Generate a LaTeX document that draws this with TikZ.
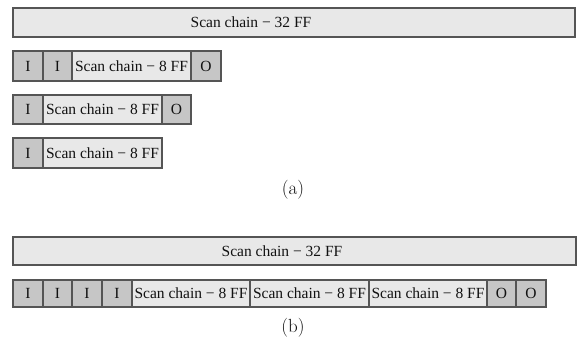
\documentclass[tikz,border=0pt]{standalone}
\usepackage{fontspec}
\newfontfamily\boxfont{Liberation Serif}
\definecolor{iogray}{HTML}{C6C6C6}
\definecolor{chaingray}{HTML}{E8E8E8}
\definecolor{edgegray}{HTML}{555555}
\definecolor{inkgray}{HTML}{111111}
\tikzset{
  cellbase/.style={draw=edgegray, line width=1.1pt, inner sep=0pt, outer sep=0pt,
    anchor=north west, text=inkgray, font=\boxfont\fontsize{15.5}{16}\selectfont},
  iocell/.style={cellbase, fill=iogray},
  chaincell/.style={cellbase, fill=chaingray},
  bartext/.style={text=inkgray, font=\boxfont\fontsize{15.5}{16}\selectfont, inner sep=0pt},
  caption/.style={text=inkgray, font=\fontsize{19}{21}\selectfont, inner sep=0pt}
}
\begin{document}
\begin{tikzpicture}[x=1pt,y=-1pt]
\useasboundingbox (0,0) rectangle (577,343);
% (a)
\node[chaincell, minimum width=562pt, minimum height=29pt] (abar) at (13,8) {};
\node[bartext] (abartext) at (251,22.5) {Scan chain − 32 FF};
% row 1
\node[iocell, minimum width=30pt, minimum height=30pt] (r1i1) at (13,51) {I};
\node[iocell, minimum width=29pt, minimum height=30pt] (r1i2) at (43,51) {I};
\node[chaincell, minimum width=119pt, minimum height=30pt] (r1c) at (72,51) {Scan chain − 8 FF};
\node[iocell, minimum width=30pt, minimum height=30pt] (r1o) at (191,51) {O};
% row 2
\node[iocell, minimum width=30pt, minimum height=29pt] (r2i1) at (13,95) {I};
\node[chaincell, minimum width=119pt, minimum height=29pt] (r2c) at (43,95) {Scan chain − 8 FF};
\node[iocell, minimum width=29pt, minimum height=29pt] (r2o) at (162,95) {O};
% row 3
\node[iocell, minimum width=30pt, minimum height=30pt] (r3i1) at (13,138) {I};
\node[chaincell, minimum width=119pt, minimum height=30pt] (r3c) at (43,138) {Scan chain − 8 FF};
\node[caption] (capa) at (293,190) {(a)};
% (b)
\node[chaincell, minimum width=563pt, minimum height=28pt] (bbar) at (13,237) {};
\node[bartext] (bbartext) at (282,251) {Scan chain − 32 FF};
\node[iocell, minimum width=30pt, minimum height=27pt] (bi1) at (13,280) {I};
\node[iocell, minimum width=29pt, minimum height=27pt] (bi2) at (43,280) {I};
\node[iocell, minimum width=30pt, minimum height=27pt] (bi3) at (72,280) {I};
\node[iocell, minimum width=30pt, minimum height=27pt] (bi4) at (102,280) {I};
\node[chaincell, minimum width=118pt, minimum height=27pt] (bc1) at (132,280) {Scan chain − 8 FF};
\node[chaincell, minimum width=119pt, minimum height=27pt] (bc2) at (250,280) {Scan chain − 8 FF};
\node[chaincell, minimum width=118pt, minimum height=27pt] (bc3) at (369,280) {Scan chain − 8 FF};
\node[iocell, minimum width=29pt, minimum height=27pt] (bo1) at (487,280) {O};
\node[iocell, minimum width=30pt, minimum height=27pt] (bo2) at (516,280) {O};
\node[caption] (capb) at (293,328) {(b)};
\end{tikzpicture}
\end{document}
